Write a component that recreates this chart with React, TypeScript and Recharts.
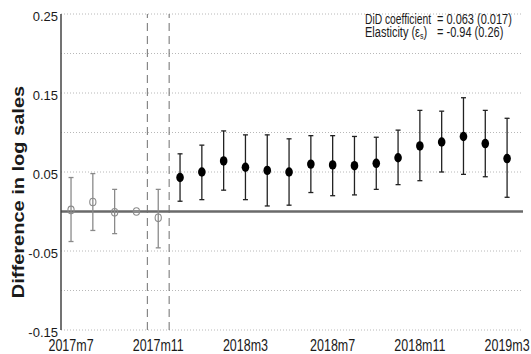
import React from 'react';
import { ComposedChart, Scatter, ErrorBar, XAxis, YAxis, CartesianGrid, ReferenceLine } from 'recharts';

const months = [
  '2017m7', '2017m8', '2017m9', '2017m10', '2017m11', '2017m12',
  '2018m1', '2018m2', '2018m3', '2018m4', '2018m5', '2018m6', '2018m7',
  '2018m8', '2018m9', '2018m10', '2018m11', '2018m12',
  '2019m1', '2019m2', '2019m3',
];

// pre-period (hollow): 2017m7 .. 2017m11
const preEstimates = [0.002, 0.012, -0.001, 0.0, -0.008];
const preLower = [-0.038, -0.024, -0.028, 0.0, -0.046];
const preUpper = [0.043, 0.048, 0.028, 0.0, 0.028];

// post-period (filled): 2017m12 .. 2019m3
const postEstimates = [0.043, 0.05, 0.064, 0.056, 0.052, 0.05, 0.06, 0.059, 0.058, 0.061, 0.068, 0.083, 0.088, 0.095, 0.086, 0.067];
const postLower = [0.013, 0.015, 0.027, 0.015, 0.007, 0.008, 0.024, 0.02, 0.021, 0.028, 0.034, 0.039, 0.05, 0.047, 0.044, 0.018];
const postUpper = [0.073, 0.084, 0.102, 0.097, 0.097, 0.092, 0.096, 0.096, 0.095, 0.094, 0.103, 0.128, 0.127, 0.144, 0.128, 0.118];

const yTicks = [-0.15, -0.05, 0.05, 0.15, 0.25];
const gridValues = [-0.15, -0.1, -0.05, 0.05, 0.1, 0.15, 0.2, 0.25];
const xTicks = [0, 4, 8, 12, 16, 20];
const windowLines = [3.5, 4.5];

const FONT = '"Liberation Sans", Arial, Helvetica, sans-serif';

const preData = preEstimates.map((v, i) => ({
  x: i,
  y: v,
  err: [v - preLower[i], preUpper[i] - v],
}));

const postData = postEstimates.map((v, i) => ({
  x: i + preEstimates.length,
  y: v,
  err: [v - postLower[i], postUpper[i] - v],
}));

function MonthTick({ x, y, payload }: any) {
  return (
    <g transform={`translate(${x},${y + 21}) scale(1,1.35)`}>
      <text x={0} y={0} textAnchor="middle" fontSize={12.5} fill="#1a1a1a" fontFamily={FONT}>
        {months[payload.value]}
      </text>
    </g>
  );
}

function ValueTick({ x, y, payload }: any) {
  return (
    <text x={x} y={y + 6.5} textAnchor="end" fontSize={13} fill="#1a1a1a" fontFamily={FONT}>
      {Number(payload.value).toFixed(2)}
    </text>
  );
}

const hollowDot = (props: any) => (
  <ellipse cx={props.cx} cy={props.cy} rx={3.1} ry={3.8} fill="none" stroke="#8a8a8a" strokeWidth={1.1} />
);

const filledDot = (props: any) => (
  <ellipse cx={props.cx} cy={props.cy} rx={3.8} ry={4.7} fill="#000" />
);

export default function App() {
  return (
    <div style={{ position: 'absolute', left: 0, top: 0, width: 531, height: 354, background: '#fff' }}>
      <ComposedChart width={531} height={354} margin={{ top: 14, right: 8, left: 0, bottom: 0 }}>
        <CartesianGrid
          horizontal
          vertical={false}
          horizontalValues={gridValues}
          stroke="#b8b8b8"
          strokeDasharray="1 2"
        />
        <XAxis
          type="number"
          dataKey="x"
          domain={[-0.46, 20.73]}
          ticks={xTicks}
          allowDataOverflow
          axisLine={false}
          tickLine={false}
          tickSize={0}
          tickMargin={0}
          height={24}
          tick={<MonthTick />}
          interval={0}
        />
        <YAxis
          type="number"
          dataKey="y"
          domain={[-0.15, 0.25]}
          ticks={yTicks}
          allowDataOverflow
          width={61}
          axisLine={{ stroke: '#444', strokeWidth: 1.5 }}
          tickLine={false}
          tickSize={0}
          tickMargin={3}
          tick={<ValueTick />}
          interval={0}
        />
        <ReferenceLine y={0} stroke="#6a6a6a" strokeWidth={2.4} />
        {windowLines.map((v) => (
          <ReferenceLine key={v} x={v} stroke="#6f6f6f" strokeWidth={1} strokeDasharray="8 5" />
        ))}
        <Scatter data={preData} dataKey="y" shape={hollowDot} isAnimationActive={false}>
          <ErrorBar dataKey="err" direction="y" width={2.5} stroke="#8a8a8a" strokeWidth={1.3} isAnimationActive={false} />
        </Scatter>
        <Scatter data={postData} dataKey="y" shape={filledDot} isAnimationActive={false}>
          <ErrorBar dataKey="err" direction="y" width={2.5} stroke="#222" strokeWidth={1.3} isAnimationActive={false} />
        </Scatter>
      </ComposedChart>
      <svg
        width={531}
        height={354}
        style={{ position: 'absolute', left: 0, top: 0, pointerEvents: 'none' }}
      >
        <g transform="translate(24,192) rotate(-90) scale(1.25,1)">
          <text x={0} y={0} textAnchor="middle" fontSize={16} fontWeight="bold" fill="#1a1a1a" fontFamily={FONT}>
            Difference in log sales
          </text>
        </g>
        <g transform="translate(365,24) scale(1,1.4)">
          <text x={0} y={0} fontSize={11} fill="#1a1a1a" fontFamily={FONT} textLength={66} lengthAdjust="spacingAndGlyphs">
            DiD coefficient
          </text>
        </g>
        <g transform="translate(437,24) scale(1,1.4)">
          <text x={0} y={0} fontSize={11} fill="#1a1a1a" fontFamily={FONT}>= 0.063 (0.017)</text>
        </g>
        <g transform="translate(365,36.5) scale(1,1.4)">
          <text x={0} y={0} fontSize={11} fill="#1a1a1a" fontFamily={FONT}>
            Elasticity (ε<tspan fontSize={7} dy={1.5}>s</tspan><tspan dy={-1.5}>)</tspan>
          </text>
        </g>
        <g transform="translate(437,36.5) scale(1,1.4)">
          <text x={0} y={0} fontSize={11} fill="#1a1a1a" fontFamily={FONT}>= -0.94 (0.26)</text>
        </g>
      </svg>
    </div>
  );
}
